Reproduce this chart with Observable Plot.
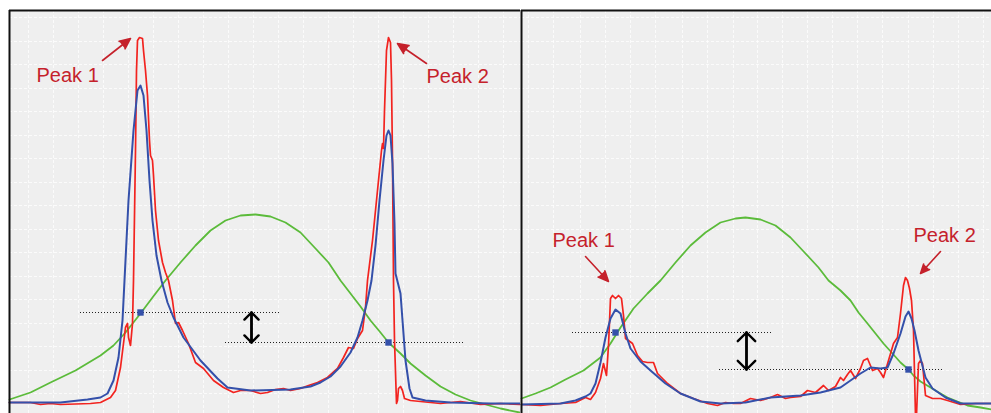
<!DOCTYPE html>
<html><head><meta charset="utf-8">
<script src="https://cdn.jsdelivr.net/npm/d3@7"></script>
<script src="https://cdn.jsdelivr.net/npm/@observablehq/plot@0.6"></script>
<style>
html,body{margin:0;padding:0;background:#fff;}
#wrap{position:relative;width:991px;height:413px;overflow:hidden;}
#left{position:absolute;left:0;top:0;}
#right{position:absolute;left:520px;top:0;}
</style></head><body>
<div id="wrap"><div id="left"></div><div id="right"></div></div>
<script>
// ---- Left panel (scan position, intensity) ----
const leftBlue = [[0,11],[51,11],[78,14],[91,16],[98,20],[104,33],[109,56],[113,93],[115,133],[119,213],[124,283],[128,323],[131,328],[134,318],[137,283],[140,233],[143,193],[147,158],[152,133],[158,111],[164,96],[174,76],[191,53],[208,35],[218,26],[241,23],[281,24],[301,27],[311,31],[321,37],[331,47],[341,61],[348,76],[353,93],[358,113],[362,133],[366,168],[370,213],[374,253],[377,278],[379,283],[381,278],[383,250],[385,190],[386,140],[391,120],[396,53],[400,25],[403,16],[416,13],[441,11],[481,10],[511,10]];
const leftRed = [[0,11],[21,11],[31,9],[41,10],[51,9],[81,10],[91,11],[101,16],[106,23],[111,46],[116,86],[118,90],[119,76],[121,68],[123,90],[124,133],[126,263],[127,343],[128,373],[130,376],[133,375],[134,363],[136,343],[138,318],[140,273],[141,258],[143,253],[144,238],[146,203],[149,173],[153,151],[156,141],[159,133],[163,113],[166,90],[169,91],[173,83],[179,70],[186,51],[194,45],[204,33],[214,26],[224,21],[231,23],[241,23],[251,20],[258,21],[266,24],[274,25],[281,23],[291,25],[299,28],[308,31],[318,36],[328,45],[334,56],[339,66],[344,65],[348,75],[353,83],[356,106],[358,133],[363,173],[367,213],[370,243],[372,263],[373,270],[374,265],[375,303],[377,363],[379,376],[381,371],[382,333],[383,253],[384,133],[385,73],[387,10],[388,13],[389,25],[391,27],[393,23],[395,15],[401,13],[411,12],[431,10],[451,12],[471,9],[491,10],[510,9]];
const leftGreen = [[0,14],[21,21],[41,31],[66,43],[91,58],[104,68],[116,81],[131,100],[143,116],[156,133],[171,151],[186,168],[201,183],[216,193],[231,198],[246,199],[261,197],[276,191],[291,181],[306,165],[319,151],[331,133],[341,120],[351,107],[361,93],[371,81],[379,71],[391,60],[401,50],[416,38],[431,27],[446,19],[461,13],[476,9],[491,5],[510,1]];
const leftDotted = [{y:101,x1:71,x2:270},{y:71,x1:216,x2:456}];
const leftSquares = [[131,101],[379,71]];
const leftSpread = {x:242,top:101,bottom:71};
const leftLabels = [{x:27,y:338,text:"Peak 1"},{x:417,y:337,text:"Peak 2"}];
const leftPointers = [{x1:93,y1:353,x2:121,y2:375},{x1:417,y1:350,x2:388,y2:370}];
const leftGridX = [19,44,69,94,119,144,169,194,219,244,269,294,319,344,369,394,419,444,469,494];

// ---- Right panel ----
const rightBlue = [[0,9],[39,10],[54,13],[64,17],[69,20],[74,30],[79,51],[84,76],[89,95],[94,104],[99,100],[104,80],[109,65],[119,52],[129,43],[144,30],[159,20],[179,12],[199,10],[224,11],[249,16],[279,18],[299,21],[319,26],[329,33],[339,40],[349,46],[359,45],[366,46],[372,60],[379,80],[384,97],[387,102],[390,95],[393,83],[397,63],[404,36],[411,25],[424,16],[439,10],[470,10]];
const rightRed = [[0,9],[19,8],[39,10],[54,11],[64,16],[69,14],[74,21],[79,35],[82,50],[85,38],[87,68],[89,115],[91,118],[94,115],[97,118],[100,115],[102,98],[104,75],[107,73],[111,70],[116,58],[121,52],[126,51],[132,51],[136,40],[146,30],[159,20],[172,15],[186,10],[196,8],[204,11],[212,10],[219,10],[229,15],[239,13],[249,16],[256,19],[264,15],[269,16],[279,17],[286,23],[294,21],[302,28],[307,23],[314,27],[319,36],[322,33],[326,39],[329,43],[334,35],[339,45],[342,53],[346,55],[351,43],[356,45],[359,41],[362,36],[367,53],[372,70],[376,76],[379,100],[382,128],[384,136],[386,133],[388,125],[390,113],[392,83],[394,-2],[395,-2],[397,50],[399,53],[401,50],[404,18],[411,15],[419,15],[426,13],[439,9],[454,10],[470,10]];
const rightGreen = [[0,15],[14,20],[29,26],[44,34],[62,43],[79,56],[89,70],[99,86],[112,105],[126,120],[139,133],[154,151],[169,168],[184,181],[199,191],[214,195],[224,196],[239,194],[254,188],[269,176],[284,160],[297,146],[307,133],[319,123],[329,113],[337,101],[346,90],[354,80],[362,70],[371,60],[379,51],[387,44],[392,38],[399,32],[409,26],[419,20],[426,16],[436,12],[446,8],[459,6],[470,4]];
const rightDotted = [{y:81,x1:51,x2:251},{y:44,x1:198,x2:423}];
const rightSquares = [[94,81],[387,44]];
const rightSpread = {x:225,top:81,bottom:44};
const rightLabels = [{x:31,y:173,text:"Peak 1"},{x:392,y:178,text:"Peak 2"}];
const rightPointers = [{x1:64,y1:157,x2:87,y2:132},{x1:419,y1:162,x2:399,y2:140}];
const rightGridX = [7,32,59,84,109,134,161,186,212,236,261,286,311,336,361,387,412,437,462];

const gridY = [20,43,67,90,114,137,161,184,208,231,255,278,302,325,349,372,396];
const yTop = 403;

const C = {red:"#f2231f", blue:"#3450aa", green:"#5bbb3a", label:"#c5212b", bg:"#efefef", frame:"#111"};

function panel(o) {
  const spread = [
    {x:o.spread.x, y1:o.spread.bottom, y2:o.spread.top},
    {x:o.spread.x, y1:o.spread.top, y2:o.spread.bottom}
  ];
  return Plot.plot({
    width:o.width, height:413,
    marginLeft:o.marginLeft, marginRight:0, marginTop:10, marginBottom:0,
    x:{domain:[0,o.xMax], axis:null},
    y:{domain:[0,yTop], axis:null},
    style:{background:"white", fontFamily:"'Liberation Sans', Arial, sans-serif"},
    marks:[
      Plot.frame({fill:C.bg, stroke:"none"}),
      Plot.gridX(o.gridX, {stroke:"#ffffff", strokeOpacity:0.75, strokeWidth:1, strokeDasharray:"3,2"}),
      Plot.gridY(gridY, {stroke:"#ffffff", strokeOpacity:0.75, strokeWidth:1, strokeDasharray:"3,2"}),
      Plot.ruleY(o.dotted, {y:"y", x1:"x1", x2:"x2", stroke:"#222", strokeWidth:1.1, strokeDasharray:"1,2"}),
      Plot.line(o.green, {x:d=>d[0], y:d=>d[1], stroke:C.green, strokeWidth:1.8}),
      Plot.line(o.red, {x:d=>d[0], y:d=>d[1], stroke:C.red, strokeWidth:1.7}),
      Plot.line(o.blue, {x:d=>d[0], y:d=>d[1], stroke:C.blue, strokeWidth:2}),
      Plot.dot(o.squares, {x:d=>d[0], y:d=>d[1], symbol:"square", r:3.6, fill:C.blue, stroke:"none"}),
      Plot.arrow(spread, {x:"x", y1:"y1", y2:"y2", stroke:"#000", strokeWidth:2.4, headLength:11, headAngle:90}),
      Plot.arrow(o.pointers, {x1:"x1", y1:"y1", x2:"x2", y2:"y2", stroke:C.label, fill:C.label, strokeWidth:1.6, headLength:11, headAngle:48}),
      Plot.text(o.labels, {x:"x", y:"y", text:"text", textAnchor:"start", fill:C.label, fontSize:20}),
      Plot.ruleX([0], {stroke:C.frame, strokeWidth:2}),
      Plot.ruleY([yTop], {stroke:C.frame, strokeWidth:2})
    ]
  });
}

document.getElementById("left").append(panel({
  width:520, marginLeft:9, xMax:511,
  blue:leftBlue, red:leftRed, green:leftGreen, dotted:leftDotted, squares:leftSquares,
  spread:leftSpread, labels:leftLabels, pointers:leftPointers, gridX:leftGridX
}));
document.getElementById("right").append(panel({
  width:471, marginLeft:1, xMax:470,
  blue:rightBlue, red:rightRed, green:rightGreen, dotted:rightDotted, squares:rightSquares,
  spread:rightSpread, labels:rightLabels, pointers:rightPointers, gridX:rightGridX
}));
</script>
</body></html>
